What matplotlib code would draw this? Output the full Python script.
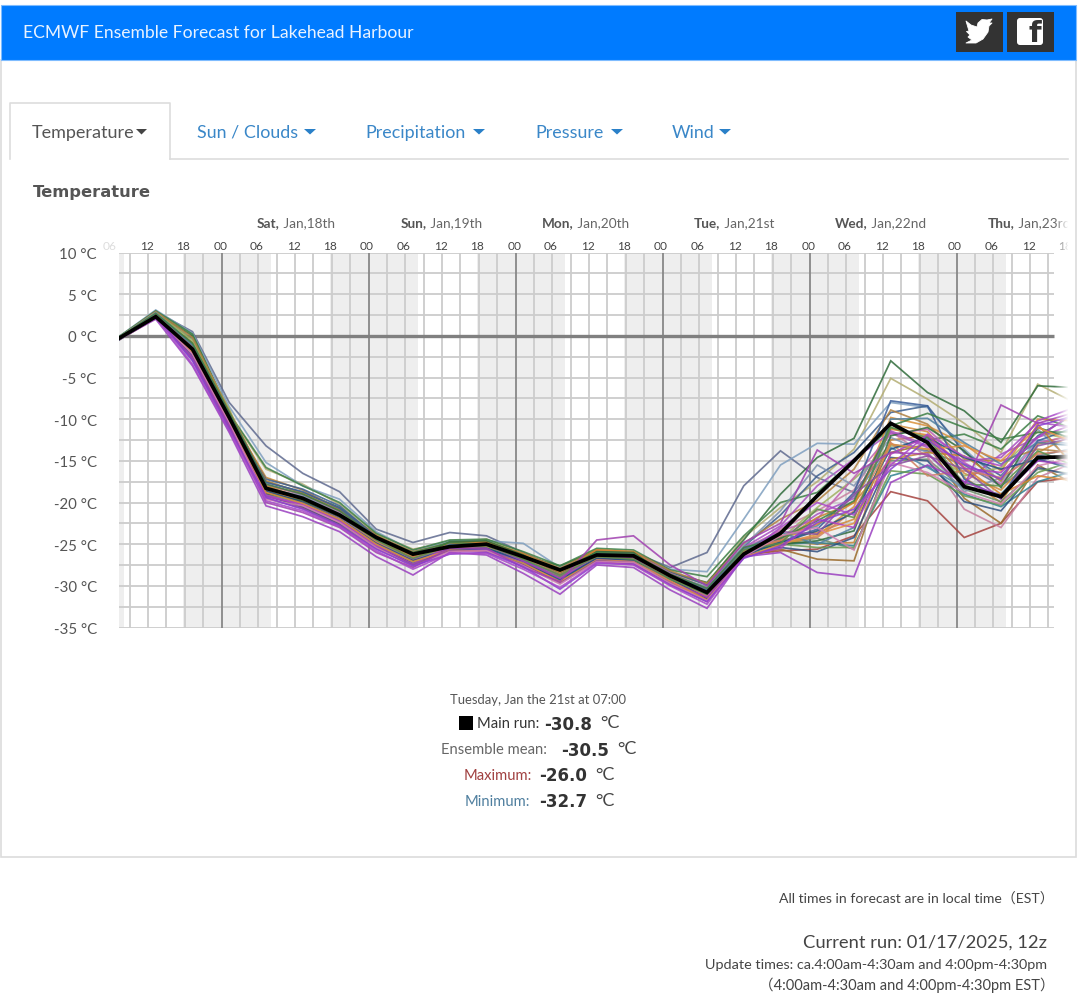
import numpy as np
import matplotlib
matplotlib.use("Agg")
import matplotlib.pyplot as plt
from matplotlib.patches import Rectangle, Polygon, FancyBboxPatch

plt.rcParams['font.family'] = ['Lato', 'DejaVu Sans']

W, H = 1080, 1003

hours = [0, 6, 12, 18, 24, 30, 36, 42, 48, 54, 60, 66, 72, 78, 84, 90, 96, 102, 108, 114, 120, 126, 132, 138, 144, 150, 156]

main_run = [-0.3, 2.3, -1.6, -9.8, -18.3, -19.5, -21.5, -24.2, -26.2, -25.3, -25.0, -26.5, -28.1, -26.3, -26.4, -28.8, -30.8, -26.2, -23.7, -19.2, -15.0, -10.5, -12.8, -18.1, -19.3, -14.6, -14.5]

m01 = [-0.2, 2.9, 0.5, -8.0, -13.2, -16.5, -18.7, -23.2, -24.8, -23.6, -24.0, -26.0, -28.0, -26.0, -26.0, -27.8, -26.0, -18.0, -13.8, -17.0, -18.8, -13.0, -13.8, -15.5, -18.0, -15.0, -14.0]
m02 = [-0.1, 3.1, 0.3, -8.5, -15.2, -18.0, -19.6, -23.5, -25.8, -24.6, -24.6, -24.9, -27.8, -26.0, -26.2, -28.0, -28.3, -22.0, -15.5, -12.9, -13.0, -8.0, -8.6, -13.6, -17.5, -12.5, -13.0]
m03 = [-0.4, 2.7, 0.0, -9.2, -17.5, -18.8, -20.6, -24.0, -26.0, -25.0, -24.9, -26.4, -27.6, -25.8, -26.3, -28.4, -29.6, -24.5, -19.0, -14.6, -12.3, -3.0, -6.8, -9.0, -12.8, -6.0, -6.2]
m04 = [-0.3, 2.8, 0.2, -9.4, -16.0, -17.8, -20.2, -23.8, -25.6, -24.8, -24.4, -26.2, -27.9, -25.6, -26.0, -28.6, -29.8, -24.2, -20.6, -17.5, -13.6, -5.1, -7.6, -10.5, -14.0, -5.8, -8.0]
m05 = [-0.5, 2.1, -2.4, -11.0, -19.0, -20.6, -22.5, -25.0, -27.5, -25.7, -25.8, -27.4, -29.6, -27.0, -27.4, -29.6, -31.6, -26.3, -25.8, -25.6, -24.0, -18.7, -19.8, -24.2, -22.5, -17.5, -17.0]
m06 = [-0.4, 2.0, -3.6, -11.6, -20.4, -21.7, -23.5, -26.5, -28.7, -26.0, -26.3, -28.5, -31.0, -27.5, -27.8, -30.5, -32.7, -26.5, -26.0, -28.4, -28.9, -17.6, -15.5, -17.5, -19.2, -15.0, -15.5]
m07 = [-0.3, 2.4, -2.8, -10.8, -20.0, -21.2, -23.0, -26.0, -27.8, -25.5, -25.5, -27.8, -29.5, -24.5, -24.0, -27.5, -30.0, -24.8, -22.5, -13.7, -16.5, -14.0, -14.2, -18.0, -8.3, -10.5, -9.2]
m08 = [-0.2, 2.6, -1.0, -9.6, -17.0, -18.5, -20.8, -23.9, -26.4, -24.8, -24.7, -26.3, -28.0, -25.9, -26.2, -28.7, -30.2, -25.6, -24.6, -25.0, -24.8, -12.5, -12.0, -17.0, -20.0, -13.0, -11.8]
m09 = [-0.3, 2.5, -0.8, -9.0, -18.6, -19.6, -21.6, -24.6, -26.9, -25.0, -25.2, -26.8, -28.8, -26.6, -26.8, -29.0, -31.0, -26.4, -25.6, -26.8, -27.0, -14.0, -13.0, -19.5, -22.5, -15.5, -17.8]
m10 = [-0.4, 2.6, -1.2, -9.2, -18.0, -19.0, -21.0, -24.4, -26.6, -25.2, -25.3, -26.9, -28.4, -26.0, -26.5, -28.9, -30.6, -25.8, -24.0, -23.6, -22.0, -10.6, -11.5, -16.5, -18.5, -14.0, -11.8]
m11 = [-0.2, 2.7, -0.4, -9.0, -18.8, -20.0, -22.0, -24.8, -27.0, -25.6, -25.6, -27.2, -29.2, -26.8, -27.0, -29.2, -30.9, -26.0, -24.8, -24.3, -25.6, -15.0, -14.8, -18.4, -19.9, -16.0, -16.6]
m12 = [-0.3, 2.2, -2.0, -10.2, -17.2, -18.4, -20.4, -24.1, -26.3, -24.9, -24.9, -26.4, -28.2, -25.8, -26.1, -28.3, -29.9, -25.3, -21.5, -16.8, -14.0, -9.2, -8.4, -14.0, -16.8, -12.0, -9.4]
m13 = [-0.5, 2.3, -2.6, -10.6, -18.4, -19.8, -21.8, -25.2, -27.2, -25.4, -25.4, -27.0, -29.0, -26.6, -26.6, -29.3, -31.3, -25.9, -23.2, -21.0, -18.5, -11.5, -14.5, -20.8, -23.0, -17.0, -15.2]
m14 = [-0.1, 3.0, 0.2, -9.3, -15.8, -18.0, -20.0, -23.7, -25.7, -24.5, -24.4, -25.9, -27.6, -25.5, -25.7, -28.1, -28.9, -24.0, -20.0, -18.8, -15.0, -11.0, -12.5, -11.8, -13.6, -9.6, -11.2]
m15 = [-0.3, 2.5, -1.8, -10.0, -18.2, -19.3, -21.2, -24.5, -27.4, -25.3, -25.4, -27.1, -29.4, -26.9, -26.9, -29.4, -31.2, -25.6, -25.2, -24.0, -20.5, -9.8, -10.8, -13.0, -16.2, -10.0, -10.2]
m16 = [-0.4, 2.4, -3.0, -11.2, -19.4, -20.8, -22.8, -25.6, -27.6, -26.2, -26.0, -27.7, -30.4, -27.3, -27.4, -29.9, -31.9, -26.7, -25.2, -22.4, -20.8, -16.0, -12.5, -15.4, -17.2, -10.8, -9.6]
m17 = [-0.2, 2.8, -0.6, -8.8, -18.5, -19.4, -21.4, -24.3, -26.5, -25.1, -25.1, -26.6, -28.3, -26.2, -26.4, -28.6, -30.4, -26.0, -24.4, -20.6, -17.2, -13.2, -13.6, -16.8, -15.8, -11.5, -12.6]
m18 = [-0.3, 2.6, -1.4, -9.5, -18.9, -20.2, -22.2, -25.0, -27.0, -25.4, -25.7, -27.3, -29.0, -26.6, -27.0, -29.5, -31.4, -26.1, -25.0, -24.8, -25.2, -16.8, -15.6, -19.0, -20.5, -17.5, -16.2]
m19 = [-0.3, 2.3, -2.2, -10.4, -19.6, -20.4, -22.4, -25.4, -27.7, -25.9, -25.8, -27.6, -29.8, -27.1, -27.2, -29.7, -31.8, -26.5, -24.0, -23.0, -25.7, -15.2, -16.4, -18.8, -20.2, -15.6, -14.6]
m20 = [-0.4, 2.7, -1.6, -9.9, -17.8, -19.1, -21.1, -24.2, -26.1, -25.0, -24.8, -26.6, -28.2, -26.1, -26.0, -28.5, -30.3, -25.5, -23.4, -22.0, -17.0, -11.8, -11.2, -15.2, -17.8, -12.8, -12.0]
m21 = [-0.2, 2.9, -0.2, -9.1, -17.4, -18.9, -20.9, -24.0, -25.9, -24.9, -24.8, -26.1, -27.9, -25.7, -25.9, -28.2, -29.7, -24.9, -22.0, -19.8, -16.0, -8.9, -10.6, -14.8, -15.0, -13.6, -14.0]
m22 = [-0.3, 2.4, -2.4, -10.7, -19.2, -20.5, -22.6, -25.3, -27.3, -25.6, -25.5, -27.2, -29.3, -26.9, -27.0, -29.4, -31.5, -26.3, -25.4, -25.9, -24.2, -14.6, -15.0, -19.9, -21.0, -15.8, -16.8]
m23 = [-0.5, 2.2, -2.9, -11.3, -18.1, -19.7, -21.7, -24.7, -26.8, -25.5, -25.4, -26.9, -28.6, -26.5, -26.7, -29.1, -31.1, -25.7, -24.2, -22.8, -19.2, -13.4, -15.8, -18.2, -19.0, -14.4, -13.5]
m24 = [-0.3, 2.5, -1.9, -10.1, -18.7, -19.9, -21.9, -24.9, -27.1, -25.3, -25.6, -27.0, -29.1, -26.7, -26.8, -29.2, -30.7, -25.4, -22.8, -18.0, -14.8, -11.6, -13.4, -17.6, -14.2, -12.2, -10.6]
m25 = [-0.2, 2.8, -1.1, -9.7, -18.3, -19.2, -21.3, -24.3, -26.7, -25.2, -25.0, -26.7, -28.5, -26.3, -26.5, -28.8, -30.1, -25.2, -21.0, -15.5, -18.0, -12.2, -14.0, -18.7, -17.0, -11.2, -15.4]
m26 = [-0.4, 2.3, -3.4, -11.4, -19.8, -21.0, -22.9, -25.8, -28.0, -26.1, -26.1, -28.0, -30.2, -27.2, -27.5, -30.0, -32.2, -26.4, -23.0, -20.0, -21.5, -15.5, -11.8, -14.5, -15.6, -10.2, -8.6]
m27 = [-0.3, 2.6, -1.3, -9.4, -17.6, -18.7, -20.7, -24.1, -26.2, -25.1, -25.0, -26.5, -28.1, -26.1, -26.3, -28.8, -30.5, -25.9, -24.7, -23.2, -18.8, -7.8, -8.4, -17.2, -19.5, -12.6, -11.0]
m28 = [-0.3, 2.4, -2.1, -10.3, -18.6, -20.1, -22.1, -25.1, -26.9, -25.5, -25.3, -27.1, -28.9, -26.5, -26.6, -29.0, -31.0, -26.2, -25.0, -25.4, -25.4, -16.2, -16.6, -19.2, -20.3, -16.4, -15.0]
m29 = [-0.3, 2.6, -1.7, -9.9, -18.5, -19.7, -21.5, -24.6, -26.5, -24.9, -24.7, -26.2, -28.4, -25.7, -25.9, -28.9, -30.9, -26.1, -24.2, -22.6, -20.0, -11.2, -11.9, -15.8, -19.0, -16.8, -17.4]
m30 = [-0.2, 2.5, -1.5, -9.7, -18.9, -19.8, -21.7, -24.2, -26.8, -24.7, -24.6, -26.3, -28.6, -25.9, -26.0, -29.1, -31.0, -25.8, -25.0, -24.6, -23.4, -12.0, -11.0, -13.8, -18.2, -11.0, -12.4]
m31 = [-0.4, 2.2, -2.5, -10.5, -19.1, -20.3, -22.3, -25.1, -26.8, -25.6, -25.7, -27.1, -28.7, -26.8, -27.1, -29.3, -31.2, -26.2, -24.4, -21.4, -19.5, -11.4, -13.2, -15.0, -14.6, -10.4, -11.0]
m32 = [-0.3, 2.4, -1.9, -10.0, -18.0, -19.6, -21.5, -24.5, -26.4, -25.2, -25.2, -26.6, -28.3, -26.4, -26.5, -29.0, -30.9, -25.8, -24.6, -21.8, -20.0, -14.8, -14.0, -14.4, -17.4, -10.6, -15.8]
m33 = [-0.2, 2.6, -1.1, -9.5, -18.2, -19.4, -21.4, -24.4, -27.2, -25.0, -25.5, -26.8, -29.3, -26.4, -26.9, -29.3, -30.7, -25.6, -23.6, -25.0, -23.0, -10.0, -9.9, -12.8, -15.4, -12.8, -13.2]
m34 = [-0.3, 2.5, -1.4, -9.8, -18.4, -19.5, -21.5, -24.7, -26.6, -25.4, -25.3, -26.7, -28.6, -26.6, -26.7, -29.1, -31.3, -25.9, -24.5, -24.2, -21.0, -12.8, -16.8, -16.2, -17.0, -14.2, -13.7]
m35 = [-0.4, 2.3, -2.3, -10.1, -18.6, -20.0, -22.0, -24.9, -27.0, -25.6, -25.5, -27.0, -29.2, -26.7, -26.9, -29.2, -31.5, -26.3, -24.8, -23.4, -21.2, -13.6, -12.2, -14.6, -16.0, -14.8, -16.0]
m36 = [-0.2, 2.7, -0.9, -9.2, -17.8, -19.0, -21.0, -24.2, -26.0, -24.8, -25.0, -26.4, -28.1, -26.0, -26.2, -28.6, -30.3, -25.4, -24.3, -22.2, -19.8, -10.8, -9.3, -11.0, -12.4, -11.6, -11.5]
m37 = [-0.3, 2.4, -2.2, -10.4, -19.3, -20.2, -22.2, -25.2, -27.4, -25.3, -25.1, -27.0, -29.1, -26.4, -26.6, -29.5, -31.4, -26.4, -25.5, -22.0, -23.0, -14.2, -12.0, -15.9, -16.4, -12.2, -9.2]
m38 = [-0.4, 2.4, -2.0, -10.2, -18.8, -20.1, -22.0, -25.0, -27.1, -25.7, -25.9, -27.3, -29.5, -26.9, -27.1, -29.4, -31.7, -26.6, -25.0, -23.8, -22.5, -13.0, -13.6, -13.2, -15.0, -11.0, -12.8]
m39 = [-0.3, 2.5, -1.6, -9.6, -18.3, -19.6, -21.6, -24.5, -26.7, -25.2, -25.2, -26.8, -28.7, -26.5, -26.8, -29.2, -31.0, -25.7, -24.9, -20.8, -21.8, -11.0, -12.2, -17.8, -18.0, -13.8, -15.6]
m40 = [-0.3, 2.3, -2.7, -10.9, -19.5, -20.7, -22.7, -25.5, -27.5, -25.8, -25.9, -27.5, -29.7, -27.0, -27.2, -29.8, -31.9, -26.6, -23.5, -23.8, -19.0, -15.6, -14.4, -16.0, -19.6, -13.2, -12.2]

members = [m01, m04, m02, m03, m05, m08, m09, m10, m11, m12, m13, m14, m15, m17, m18, m20, m21, m22, m23, m24, m25, m27, m28,
           m29, m30, m31, m32, m33, m34, m35, m36, m37, m38, m39, m40, m19, m06, m07, m16, m26]

member_colours = ['#5f6a8f', '#b3ad72', '#7f9fbf', '#2f6b3a', '#a5433f', '#c4832f', '#9a6a2a', '#d08a3a', '#6f8f6a',
                  '#3c5f8f', '#c77fa0', '#3d7f45', '#d9913a', '#9fb060', '#2f8090', '#c060b0', '#b08040', '#2f4f7f',
                  '#4f86a8', '#a84fc0', '#7f93b0', '#3a5e9a', '#6a9a50',
                  '#d9822b', '#2f6b3a', '#a84fc0', '#c4832f', '#4f7f9f', '#d07f60', '#1f4f80', '#3d7f45', '#b040c0', '#e09040', '#5a8f4a', '#8a50a0',
                  '#d080b0', '#9a3fc0', '#a040b0', '#8a3fd0', '#a848c8']

temp_ticks = [10, 5, 0, -5, -10, -15, -20, -25, -30, -35]
day_bold = ['Sat,', 'Sun,', 'Mon,', 'Tue,', 'Wed,', 'Thu,']
day_light = [' Jan,18th', ' Jan,19th', ' Jan,20th', ' Jan,21st', ' Jan,22nd', ' Jan,23rd']
noon_hours = [29, 53, 77, 101, 125, 149]
hour_labels = ['06', '12', '18', '00']

fig = plt.figure(figsize=(W / 100, H / 100), dpi=100, facecolor='white')

# ---- page furniture in pixel coordinates
page = fig.add_axes([0, 0, 1, 1], zorder=0)
page.set_xlim(0, W)
page.set_ylim(H - 1, -1)
page.axis('off')
page.add_patch(Rectangle((1, 59.5), 1075, 797, fc='white', ec='#dcdcdc', lw=1.2))
page.add_patch(Rectangle((1, 4.5), 1075, 55, fc='#007bff', ec='#7fbcff', lw=0.8))
page.text(23, 31.5, 'ECMWF Ensemble Forecast for Lakehead Harbour', color='#e8f2ff', fontsize=12.6, va='center')

# social buttons
page.add_patch(Rectangle((956, 12), 47, 40, fc='#333333', ec='none'))
page.add_patch(Rectangle((1007, 12), 47, 40, fc='#333333', ec='none'))
bird = [(966, 21), (971, 25), (977, 27), (978, 23), (982, 19.5), (987, 20), (992, 19), (989, 23), (992, 23),
        (989, 26), (988, 32), (983, 39), (976, 43), (966, 43), (972, 40), (968, 37), (970, 35), (966.5, 31.5), (969, 31)]
page.add_patch(Polygon(bird, closed=True, fc='white', ec='white', lw=0.6, joinstyle='round'))
page.add_patch(FancyBboxPatch((1017, 18), 26, 27, boxstyle='round,pad=0,rounding_size=3', fc='white', ec='none'))
page.text(1034.5, 46.5, 'f', color='#333333', fontsize=21, fontweight='bold', ha='center', va='bottom', family='DejaVu Sans')

# tabs
page.plot([170, 1068], [158.5, 158.5], color='#dddddd', lw=1.2)
page.plot([10, 10, 170, 170], [158.5, 102.5, 102.5, 158.5], color='#dddddd', lw=1.2)
page.text(32, 131.5, 'Temperature', color='#555555', fontsize=13, va='center')
page.add_patch(Polygon([(136, 129), (147, 129), (141.5, 134.5)], fc='#444444', ec='none'))
tabs = [('Sun / Clouds', 197, 304), ('Precipitation', 365, 473), ('Pressure', 535, 611), ('Wind', 672, 719)]
for name, x, cx in tabs:
    page.text(x, 131.5, name, color='#3a87c8', fontsize=12.9, va='center')
    page.add_patch(Polygon([(cx, 129), (cx + 12, 129), (cx + 6, 134.5)], fc='#2a80c8', ec='none'))
page.text(33, 191.5, 'Temperature', color='#555555', fontsize=11.8, fontweight='bold', va='center', family='DejaVu Sans')

# readout
page.text(538.5, 699.5, 'Tuesday, Jan the 21st at 07:00', color='#555555', fontsize=9.4, ha='center', va='center')
page.add_patch(Rectangle((459, 716), 14, 14, fc='black', ec='none'))
rows = [(477, 723.5, 'Main run:', '#333333', 544, '-30.8', 600),
        (441, 749.5, 'Ensemble mean:', '#666666', 561, '-30.5', 617),
        (464, 775.5, 'Maximum:', '#a04040', 539, '-26.0', 595),
        (465, 801.5, 'Minimum:', '#4f7f9f', 539, '-32.7', 595)]
for x, y, lab, col, vx, val, ux in rows:
    page.text(x, y, lab, color=col, fontsize=10.6, va='center')
    page.text(vx, y, val, color='#333333', fontsize=12, fontweight='bold', va='center', family='DejaVu Sans')
    page.text(ux, y - 1, '°C', color='#444444', fontsize=13, va='center')

# footer
page.text(1054, 896.5, 'All times in forecast are in local time（EST）', color='#444444', fontsize=10.1, ha='right', va='center',
          family=['Lato', 'Noto Sans CJK SC'])
page.text(1047, 941.5, 'Current run: 01/17/2025, 12z', color='#444444', fontsize=13.2, ha='right', va='center')
page.text(1047, 964.5, 'Update times: ca.4:00am-4:30am and 4:00pm-4:30pm', color='#444444', fontsize=10.4, ha='right', va='center')
page.text(1055, 984.5, '（4:00am-4:30am and 4:00pm-4:30pm EST）', color='#444444', fontsize=10.5, ha='right', va='center',
          family=['Lato', 'Noto Sans CJK SC'])

# ---- chart
L, R, T, B = 119, 1068, 253.5, 628.5
PX_PER_H = 6.125
ax = fig.add_axes([L / W, 1 - B / H, (R - L) / W, (B - T) / H], zorder=1)
ax.patch.set_alpha(0)
ax.set_xlim(0, (R - L) / PX_PER_H)
ax.set_ylim(-35, 10)
for s in ax.spines.values():
    s.set_visible(False)

GRID_END = (1054 - L) / PX_PER_H
for start in range(-14, 140, 24):
    ax.axvspan(max(start + 0.4, 0), start + 14.8, color='#eeeeee', lw=0, zorder=0)
for t in range(2, 153, 3):
    major = (t - 17) % 24 == 0
    ax.plot([t - 0.25, t - 0.25], [-35, 10], color='#888888' if major else '#cccccc', lw=1.3, zorder=1 if not major else 1.5,
            solid_capstyle='butt')
for v in np.arange(-35, 10.1, 2.5):
    ax.plot([0, GRID_END], [v, v], color='#cccccc', lw=1.3, zorder=1, solid_capstyle='butt')
ax.plot([0, GRID_END], [0, 0], color='#808080', lw=2.4, zorder=2, solid_capstyle='butt')

for vals, col in zip(members, member_colours):
    ax.plot(hours, vals, color=col, lw=1.25, alpha=0.85, zorder=3, solid_joinstyle='miter')
ax.plot(hours, main_run, color='black', lw=2.7, zorder=4, solid_joinstyle='miter')

ax.set_xticks([])
ax.set_yticks(temp_ticks)
ax.set_yticklabels([f'{v} °C' for v in temp_ticks], color='#555555', fontsize=10.8)
ax.tick_params(axis='y', length=0, pad=16)

# hour and day labels above the plot
xpx = lambda t: L + t * PX_PER_H
for i, t in enumerate(range(-1, 157, 6)):
    lab = hour_labels[i % 4]
    col = '#dddddd' if i == 0 else '#444444'
    page.text(xpx(t) - 3, 245.5, lab, color=col, fontsize=8.6, ha='center', va='center', zorder=5)
for t, b, l in zip(noon_hours, day_bold, day_light):
    cx = xpx(t)
    page.text(cx - 17, 222.5, b, color='#555555', fontsize=9.8, fontweight='bold', ha='right', va='center')
    page.text(cx - 17, 222.5, l, color='#666666', fontsize=9.8, ha='left', va='center')

# fade at the right edge of the chart
fade = fig.add_axes([1054 / W, 1 - 640 / H, 21 / W, 430 / H], zorder=3)
fade.axis('off')
rgba = np.ones((1, 21, 4))
rgba[0, :, 3] = np.clip(np.arange(21) / 14, 0, 1)
fade.imshow(rgba, aspect='auto', interpolation='bilinear')

fig.savefig('out.png', dpi=100)
